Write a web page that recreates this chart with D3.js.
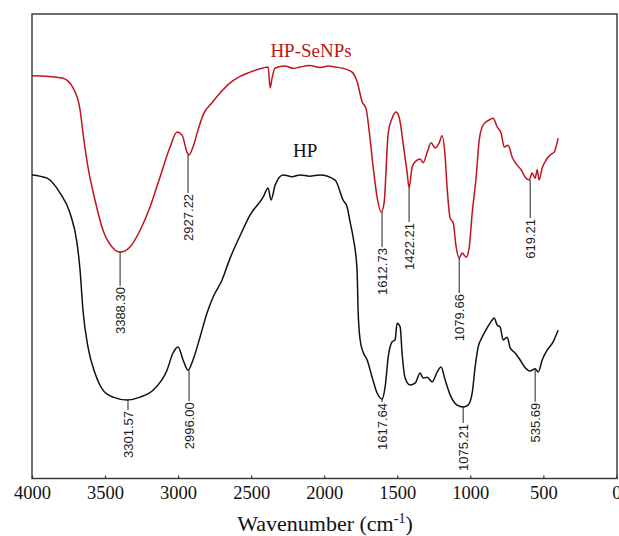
<!DOCTYPE html>
<html>
<head>
<meta charset="utf-8">
<script src="https://cdn.jsdelivr.net/npm/d3@7"></script>
<style>
  body { margin: 0; background: #fff; overflow: hidden; }
  svg { display: block; }
</style>
</head>
<body>
<svg id="chart" width="619" height="536"></svg>
<script>
// FTIR spectra, transmittance in arbitrary units (0-100), wavenumber in cm-1
var seWave = [4000, 3900, 3788, 3719, 3671, 3651, 3617, 3569, 3514, 3452, 3397, 3329, 3260, 3192, 3124, 3055, 3007, 2973, 2939, 2925, 2898, 2863, 2829, 2768, 2713, 2644, 2576, 2507, 2418, 2384, 2370, 2357, 2336, 2268, 2210, 2165, 2100, 2028, 1970, 1925, 1857, 1809, 1775, 1740, 1713, 1693, 1665, 1638, 1610, 1590, 1562, 1535, 1508, 1487, 1460, 1432, 1419, 1398, 1378, 1343, 1323, 1295, 1268, 1241, 1213, 1193, 1172, 1159, 1138, 1117, 1097, 1076, 1056, 1028, 1008, 987, 960, 939, 919, 892, 871, 844, 816, 789, 768, 741, 713, 679, 652, 624, 597, 577, 556, 542, 529, 508, 481, 453, 426, 399];
var seT = [86.7, 86.6, 86.2, 84.1, 79.4, 74.4, 67.1, 60.0, 53.5, 49.9, 48.8, 49.9, 53.5, 58.5, 64.9, 71.4, 74.6, 74.0, 70.3, 69.7, 71.4, 75.1, 78.3, 80.9, 83.0, 85.2, 86.6, 87.5, 88.4, 88.6, 84.1, 86.2, 88.4, 88.8, 88.3, 88.6, 88.9, 88.5, 88.8, 88.6, 88.2, 87.5, 85.5, 81.1, 79.6, 75.1, 67.1, 60.6, 57.4, 59.4, 74.4, 77.6, 78.9, 77.8, 72.3, 65.8, 62.6, 67.1, 68.2, 68.8, 68.0, 70.3, 72.3, 71.2, 72.3, 73.8, 69.2, 62.8, 56.1, 55.1, 49.9, 47.5, 48.6, 47.7, 49.7, 57.2, 64.9, 72.9, 75.7, 76.8, 77.2, 77.6, 75.7, 74.4, 71.4, 71.8, 69.2, 67.5, 66.5, 64.9, 64.3, 65.8, 64.7, 66.5, 64.3, 66.9, 68.6, 69.7, 70.3, 73.3];

var hpWave = [4000, 3897, 3808, 3740, 3692, 3671, 3651, 3617, 3569, 3514, 3445, 3350, 3260, 3172, 3076, 3035, 3000, 2966, 2932, 2898, 2850, 2802, 2761, 2699, 2644, 2576, 2507, 2418, 2384, 2364, 2336, 2281, 2220, 2165, 2100, 2028, 1925, 1871, 1843, 1823, 1802, 1775, 1768, 1754, 1734, 1706, 1672, 1638, 1604, 1583, 1562, 1535, 1515, 1501, 1480, 1467, 1446, 1412, 1378, 1343, 1323, 1295, 1261, 1227, 1200, 1172, 1138, 1090, 1049, 1015, 987, 967, 946, 919, 885, 850, 837, 816, 796, 775, 748, 727, 693, 659, 624, 590, 556, 535, 508, 474, 433, 399];
var hpT = [65.4, 64.7, 61.5, 57.2, 50.8, 44.9, 36.3, 28.4, 22.8, 19.1, 17.6, 17.0, 17.6, 19.1, 23.4, 27.1, 28.4, 25.6, 23.4, 25.6, 30.5, 35.7, 39.1, 42.8, 47.5, 52.3, 56.8, 60.6, 62.6, 60.0, 63.2, 65.4, 65.0, 65.4, 65.1, 65.4, 64.3, 60.0, 58.5, 55.3, 52.0, 44.9, 36.3, 29.9, 27.3, 25.6, 21.9, 18.5, 17.2, 19.8, 26.2, 29.5, 29.9, 33.5, 32.7, 27.1, 21.7, 20.2, 20.6, 22.8, 21.7, 21.9, 20.9, 23.0, 24.1, 21.3, 18.1, 15.9, 15.5, 15.9, 18.5, 24.1, 28.4, 30.5, 32.5, 34.2, 34.6, 33.1, 32.7, 29.9, 30.5, 28.2, 27.1, 25.6, 23.9, 23.2, 23.7, 23.0, 25.6, 27.7, 29.5, 32.0];

// peak annotations: label, wavenumber at tip, transmittance at tip, leader length
var seLabels = ["3388.30", "2927.22", "1612.73", "1422.21", "1079.66", "619.21"];
var seLabelWave = [3397, 2932, 1604, 1419, 1076, 590];
var seLabelT = [48.8, 69.7, 57.4, 62.6, 47.5, 64.3];
var seLead = [34, 38, 35, 34, 35, 38];

var hpLabels = ["3301.57", "2996.00", "1617.64", "1075.21", "535.69"];
var hpLabelWave = [3343, 2925, 1604, 1049, 556];
var hpLabelT = [17.0, 23.4, 17.2, 15.5, 23.7];
var hpLead = [10, 31, 3, 16, 33];

var xTicks = [4000, 3500, 3000, 2500, 2000, 1500, 1000, 500, 0];

(function() {
  var serif = '"Liberation Serif", "Times New Roman", serif';
  var sans = '"Liberation Sans", Arial, sans-serif';
  var redColor = '#c0141c';

  var svg = d3.select('#chart');
  var mLeft = 32, mRight = 617, mTop = 14, mBottom = 478.5;

  var x = d3.scaleLinear().domain([4000, 0]).range([mLeft, 616.4]);
  var y = d3.scaleLinear().domain([0, 100]).range([479, mTop]);

  // frame
  svg.append('rect')
    .attr('x', mLeft).attr('y', mTop)
    .attr('width', mRight - mLeft).attr('height', mBottom - mTop)
    .attr('fill', 'none').attr('stroke', '#333').attr('stroke-width', 1.4);

  var xAxis = svg.append('g')
    .attr('transform', 'translate(0,' + mBottom + ')')
    .call(d3.axisBottom(x).tickValues(xTicks).tickFormat(d3.format('d'))
      .tickSizeInner(-3).tickSizeOuter(0).tickPadding(7));
  xAxis.select('.domain').remove();
  xAxis.selectAll('line').attr('stroke', '#333').attr('stroke-width', 1.2);
  xAxis.selectAll('text')
    .attr('font-family', serif).attr('font-size', 18.5).attr('fill', '#111');

  var title = svg.append('text')
    .attr('x', 325).attr('y', 531)
    .attr('text-anchor', 'middle')
    .attr('font-family', serif).attr('font-size', 22).attr('fill', '#111');
  title.append('tspan').text('Wavenumber (cm');
  title.append('tspan').attr('font-size', 14).attr('dy', -8).text('-1');
  title.append('tspan').attr('dy', 8).text(')');

  function toPoints(w, t) {
    return w.map(function(d, i) { return [d, t[i]]; });
  }

  var line = d3.line()
    .x(function(d) { return x(d[0]); })
    .y(function(d) { return y(d[1]); })
    .curve(d3.curveMonotoneX);

  svg.append('path')
    .datum(toPoints(seWave, seT))
    .attr('d', line)
    .attr('fill', 'none').attr('stroke', redColor).attr('stroke-width', 1.5);

  svg.append('path')
    .datum(toPoints(hpWave, hpT))
    .attr('d', line)
    .attr('fill', 'none').attr('stroke', '#111').attr('stroke-width', 1.5);

  function annotate(labels, waves, ts, leads) {
    var g = svg.append('g');
    labels.forEach(function(lab, i) {
      var px = x(waves[i]), py = y(ts[i]);
      g.append('line')
        .attr('x1', px).attr('x2', px)
        .attr('y1', py).attr('y2', py + leads[i])
        .attr('stroke', '#222').attr('stroke-width', 1);
      g.append('text')
        .attr('transform', 'translate(' + px + ',' + (py + leads[i] + 1) + ') rotate(-90)')
        .attr('text-anchor', 'end')
        .attr('dy', '0.36em')
        .attr('font-family', sans).attr('font-size', 13).attr('fill', '#222')
        .text(lab);
    });
  }
  annotate(seLabels, seLabelWave, seLabelT, seLead);
  annotate(hpLabels, hpLabelWave, hpLabelT, hpLead);

  // series names
  svg.append('text')
    .attr('x', x(2090)).attr('y', y(90.8))
    .attr('text-anchor', 'middle')
    .attr('font-family', serif).attr('font-size', 19).attr('fill', redColor)
    .text('HP-SeNPs');
  svg.append('text')
    .attr('x', x(2131)).attr('y', y(69.2))
    .attr('text-anchor', 'middle')
    .attr('font-family', serif).attr('font-size', 19).attr('fill', '#111')
    .text('HP');
})();
</script>
</body>
</html>
